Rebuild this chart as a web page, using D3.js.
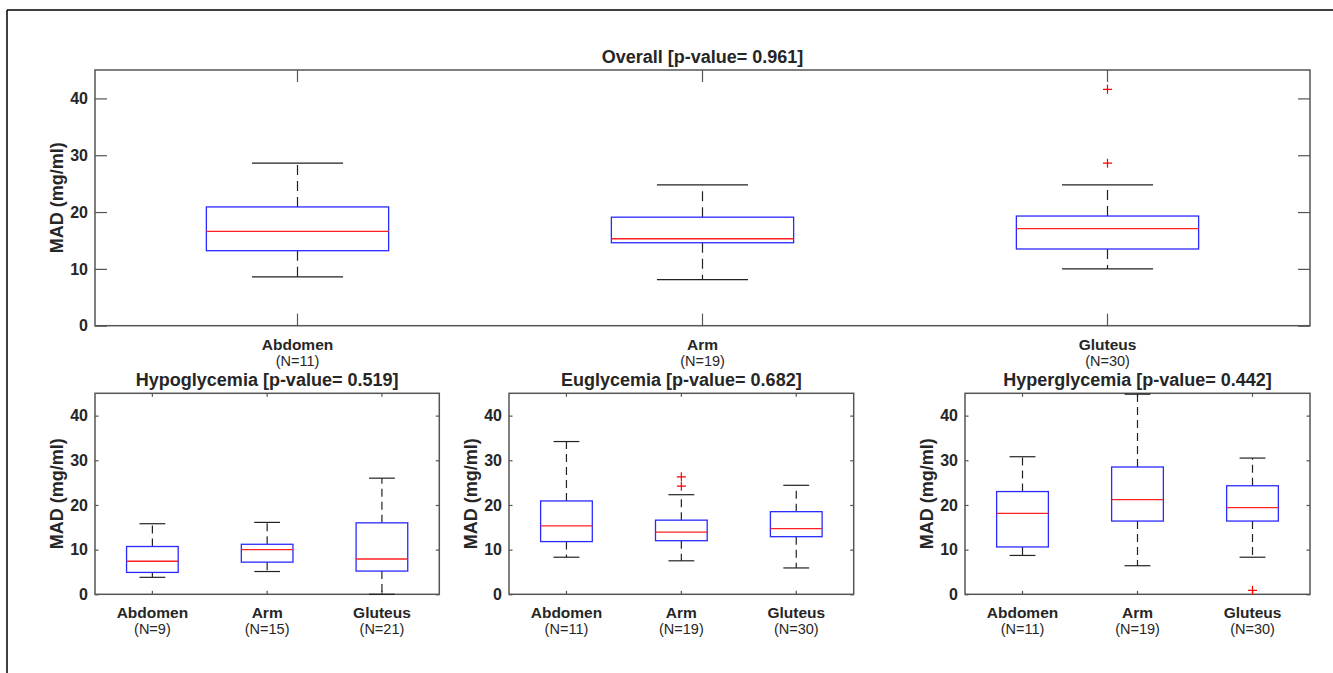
<!DOCTYPE html>
<html>
<head>
<meta charset="utf-8">
<script src="https://cdn.jsdelivr.net/npm/d3@7"></script>
<style>
  html, body { margin: 0; padding: 0; background: #fff; }
  svg { display: block; }
  text { font-family: "Liberation Sans", Arial, Helvetica, sans-serif; fill: #262626; }
</style>
</head>
<body>
<svg id="chart" width="1333" height="673"></svg>
<script>
// ---------- data ----------
const categories = ["Abdomen", "Arm", "Gluteus"];
const yTicks = [0, 10, 20, 30, 40];
const yDomain = [0, 45];
const yLabel = "MAD (mg/ml)";

// box stats: [lower whisker, Q1, median, Q3, upper whisker]
const overallTitle = "Overall [p-value= 0.961]";
const overallN = [11, 19, 30];
const overallStats = [
  [8.6, 13.2, 16.6, 20.9, 28.6],
  [8.1, 14.6, 15.3, 19.1, 24.8],
  [10.0, 13.5, 17.1, 19.3, 24.8]
];
const overallOutliers = [[], [], [41.6, 28.6]];

const hypoTitle = "Hypoglycemia [p-value= 0.519]";
const hypoN = [9, 15, 21];
const hypoStats = [
  [3.8, 4.9, 7.4, 10.7, 15.8],
  [5.1, 7.2, 10.0, 11.2, 16.1],
  [0.0, 5.2, 7.9, 16.0, 26.0]
];
const hypoOutliers = [[], [], []];

const euTitle = "Euglycemia [p-value= 0.682]";
const euN = [11, 19, 30];
const euStats = [
  [8.3, 11.8, 15.3, 20.9, 34.2],
  [7.5, 12.0, 13.9, 16.6, 22.3],
  [5.9, 12.9, 14.7, 18.5, 24.4]
];
const euOutliers = [[], [26.3, 24.2], []];

const hyperTitle = "Hyperglycemia [p-value= 0.442]";
const hyperN = [11, 19, 30];
const hyperStats = [
  [8.7, 10.6, 18.1, 23.0, 30.8],
  [6.4, 16.4, 21.2, 28.5, 44.8],
  [8.3, 16.4, 19.4, 24.3, 30.5]
];
const hyperOutliers = [[], [], [0.9]];

// ---------- layout ----------
const svg = d3.select("#chart");

// figure border (top and left)
svg.append("line").attr("x1", 7).attr("x2", 1333).attr("y1", 10).attr("y2", 10)
  .attr("stroke", "#000").attr("stroke-width", 1.5);
svg.append("line").attr("x1", 7).attr("x2", 7).attr("y1", 10).attr("y2", 673)
  .attr("stroke", "#000").attr("stroke-width", 1.5);

const panels = [
  { title: overallTitle, n: overallN, stats: overallStats, out: overallOutliers,
    x0: 95, x1: 1310, y0: 70, y1: 325.7, tick: 12, dash: "10,6", labelX: 63 },
  { title: hypoTitle, n: hypoN, stats: hypoStats, out: hypoOutliers,
    x0: 95, x1: 439.3, y0: 393.3, y1: 594.3, tick: 3.5, dash: "8,5", labelX: 63 },
  { title: euTitle, n: euN, stats: euStats, out: euOutliers,
    x0: 509, x1: 853.7, y0: 393.3, y1: 594.3, tick: 3.5, dash: "8,5", labelX: 476.5 },
  { title: hyperTitle, n: hyperN, stats: hyperStats, out: hyperOutliers,
    x0: 965, x1: 1310, y0: 393.3, y1: 594.3, tick: 3.5, dash: "8,5", labelX: 933 }
];

const axisColor = "#555";
const fontFam = '"Liberation Sans", Arial, sans-serif';

panels.forEach(p => {
  const g = svg.append("g");
  const x = d3.scaleBand().domain(categories).range([p.x0, p.x1]).paddingInner(0).paddingOuter(0);
  const y = d3.scaleLinear().domain(yDomain).range([p.y1, p.y0]);
  const bw = x.bandwidth() * 0.45;
  const cap = bw / 2;

  // axes
  const left = g.append("g").attr("transform", `translate(${p.x0},0)`)
    .call(d3.axisLeft(y).tickValues(yTicks).tickSizeInner(-p.tick).tickSizeOuter(0).tickPadding(7));
  const right = g.append("g").attr("transform", `translate(${p.x1},0)`)
    .call(d3.axisRight(y).tickValues(yTicks).tickSizeInner(-p.tick).tickSizeOuter(0).tickFormat(""));
  const bottom = g.append("g").attr("transform", `translate(0,${p.y1})`)
    .call(d3.axisBottom(x).tickSizeInner(-p.tick).tickSizeOuter(0).tickFormat(""));
  const top = g.append("g").attr("transform", `translate(0,${p.y0})`)
    .call(d3.axisTop(x).tickSizeInner(-p.tick).tickSizeOuter(0).tickFormat(""));
  [left, right, bottom, top].forEach(a => {
    a.select(".domain").remove();
    a.selectAll("line").attr("stroke", axisColor).attr("stroke-width", 1.2);
  });
  left.selectAll("text")
    .attr("font-size", 16).attr("font-weight", "bold")
    .attr("font-family", fontFam)
    .attr("fill", "#262626");

  // category labels (two lines)
  bottom.selectAll(".tick").each(function(d, i) {
    const t = d3.select(this);
    t.append("text").attr("y", 24).attr("text-anchor", "middle")
      .attr("font-size", 15.5).attr("font-weight", "bold").attr("fill", "#262626")
      .attr("font-family", fontFam)
      .text(d);
    t.append("text").attr("y", 40).attr("text-anchor", "middle")
      .attr("font-size", 14.5).attr("fill", "#262626")
      .attr("font-family", fontFam)
      .text(`(N=${p.n[i]})`);
  });

  // frame
  g.append("rect").attr("x", p.x0).attr("y", p.y0)
    .attr("width", p.x1 - p.x0).attr("height", p.y1 - p.y0)
    .attr("fill", "none").attr("stroke", axisColor).attr("stroke-width", 1.5);

  // title
  g.append("text").attr("x", (p.x0 + p.x1) / 2).attr("y", p.y0 - 7)
    .attr("text-anchor", "middle").attr("font-size", 18).attr("font-weight", "bold")
    .text(p.title);

  // y label
  g.append("text")
    .attr("transform", `translate(${p.labelX},${(p.y0 + p.y1) / 2}) rotate(-90)`)
    .attr("text-anchor", "middle").attr("font-size", 18).attr("font-weight", "bold")
    .text(yLabel);

  // boxes
  categories.forEach((c, i) => {
    const [lo, q1, med, q3, hi] = p.stats[i];
    const cx = x(c) + x.bandwidth() / 2;
    const bg = g.append("g");
    // whiskers (dashed)
    bg.append("line").attr("x1", cx).attr("x2", cx).attr("y1", y(q3)).attr("y2", y(hi))
      .attr("stroke", "#222").attr("stroke-width", 1.2).attr("stroke-dasharray", p.dash);
    bg.append("line").attr("x1", cx).attr("x2", cx).attr("y1", y(q1)).attr("y2", y(lo))
      .attr("stroke", "#222").attr("stroke-width", 1.2).attr("stroke-dasharray", p.dash);
    // caps
    [lo, hi].forEach(v => {
      bg.append("line").attr("x1", cx - cap / 2).attr("x2", cx + cap / 2)
        .attr("y1", y(v)).attr("y2", y(v)).attr("stroke", "#222").attr("stroke-width", 1.2);
    });
    // box
    bg.append("rect").attr("x", cx - bw / 2).attr("y", y(q3))
      .attr("width", bw).attr("height", y(q1) - y(q3))
      .attr("fill", "none").attr("stroke", "#2a2aff").attr("stroke-width", 1.3);
    // median
    bg.append("line").attr("x1", cx - bw / 2).attr("x2", cx + bw / 2)
      .attr("y1", y(med)).attr("y2", y(med)).attr("stroke", "#ff2020").attr("stroke-width", 1.3);
    // outliers
    p.out[i].forEach(v => {
      const s = 4.5;
      bg.append("path")
        .attr("d", `M${cx - s},${y(v)}H${cx + s}M${cx},${y(v) - s}V${y(v) + s}`)
        .attr("stroke", "#ff0000").attr("stroke-width", 1.2).attr("fill", "none");
    });
  });
});
</script>
</body>
</html>
